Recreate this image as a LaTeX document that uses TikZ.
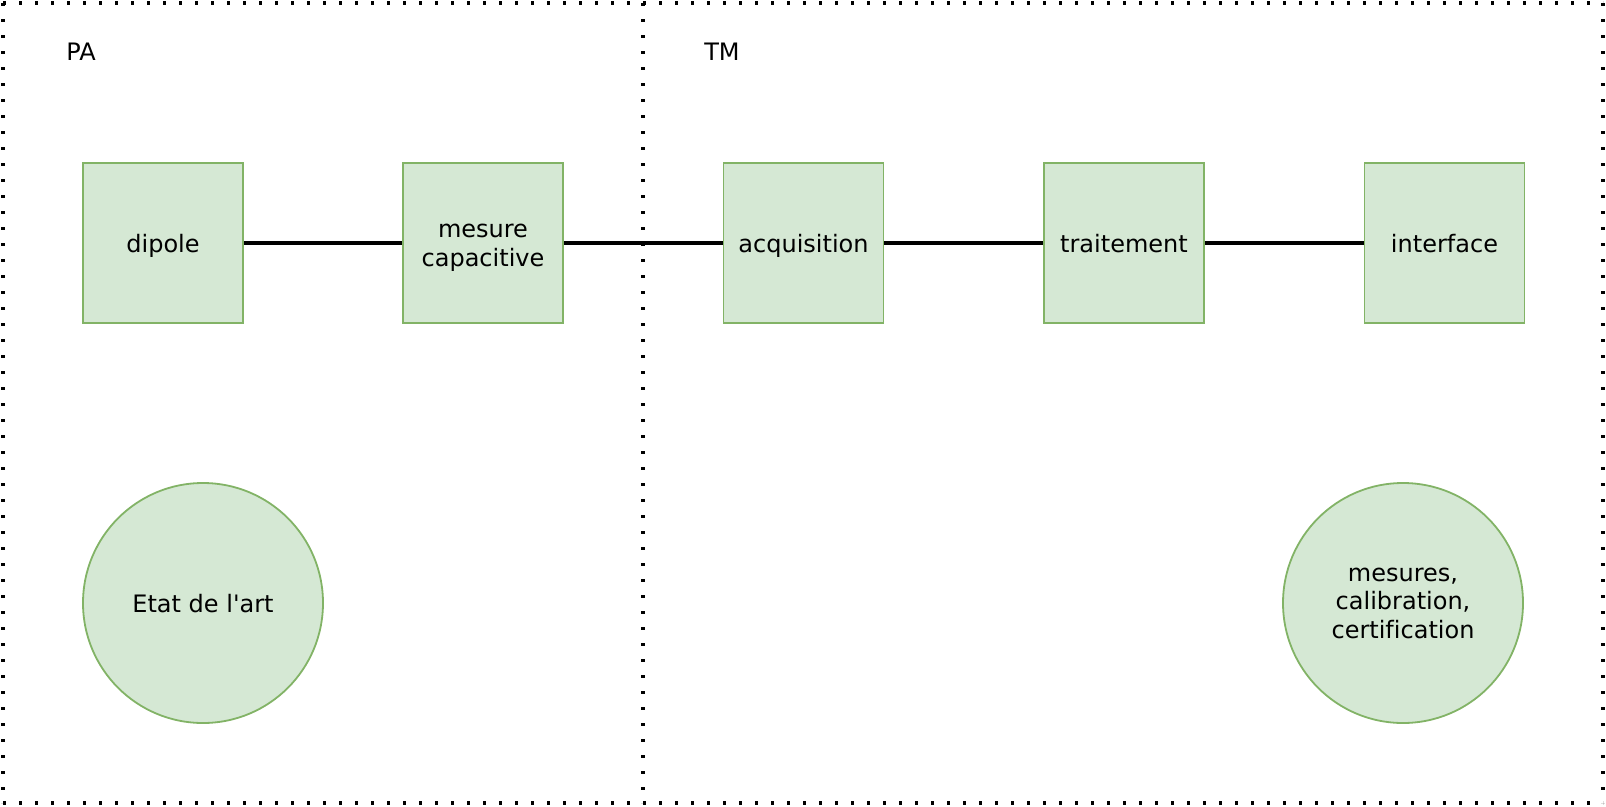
\documentclass[tikz,border=0pt]{standalone}
\usepackage{fontspec}
\setmainfont[Ligatures={NoCommon}]{DejaVu Sans}
\definecolor{gfill}{HTML}{D5E8D4}
\definecolor{gdraw}{HTML}{82B366}
\begin{document}
\begin{tikzpicture}[x=1pt,y=-1pt,
  every node/.style={font=\fontsize{24}{28.5}\selectfont, align=center, inner sep=0pt,
    execute at begin node={\rule{0pt}{23.3pt}},
    execute at end node={\rule[-5.2pt]{0pt}{5.2pt}}},
  twolines/.style={text height=51.8pt, text depth=5.2pt},
  threelines/.style={text height=75.3pt, text depth=5.2pt},
  blockbox/.style={draw=gdraw, fill=gfill, line width=1.8pt, minimum width=160pt, minimum height=160pt},
  roundbox/.style={circle, draw=gdraw, fill=gfill, line width=1.8pt, minimum size=240pt},
  region/.style={line width=3.2pt, dash pattern=on 3.2pt off 12.8pt},
  link/.style={line width=3.2pt}]
\useasboundingbox (0,0) rectangle (1606,806);
% regions
\draw[region] (3,3) -- (643,3);
\draw[region] (643,3) -- (1603,3);
\draw[region] (3,3) -- (3,803);
\draw[region] (643,3) -- (643,803);
\draw[region] (1603,3) -- (1603,803);
\draw[region] (3,803) -- (643,803);
\draw[region] (643,803) -- (1603,803);
\node (pa) at (81,51) {PA};
\node (tm) at (722,51) {TM};
% blocks
\node[blockbox] (dip) at (163,243) {dipole};
\node[blockbox, twolines] (mes) at (483,243) {mesure\\capacitive};
\node[blockbox] (acq) at (803.5,243) {acquisition};
\node[blockbox] (tra) at (1124,243) {traitement};
\node[blockbox] (int) at (1444.5,243) {interface};
\draw[link] (dip) -- (mes);
\draw[link] (mes) -- (acq);
\draw[link] (acq) -- (tra);
\draw[link] (tra) -- (int);
% circles
\node[roundbox] (etat) at (203,603) {Etat de l\textquotesingle art};
\node[roundbox, threelines] (mcc) at (1403,603) {mesures,\\calibration,\\certification};
\end{tikzpicture}
\end{document}
